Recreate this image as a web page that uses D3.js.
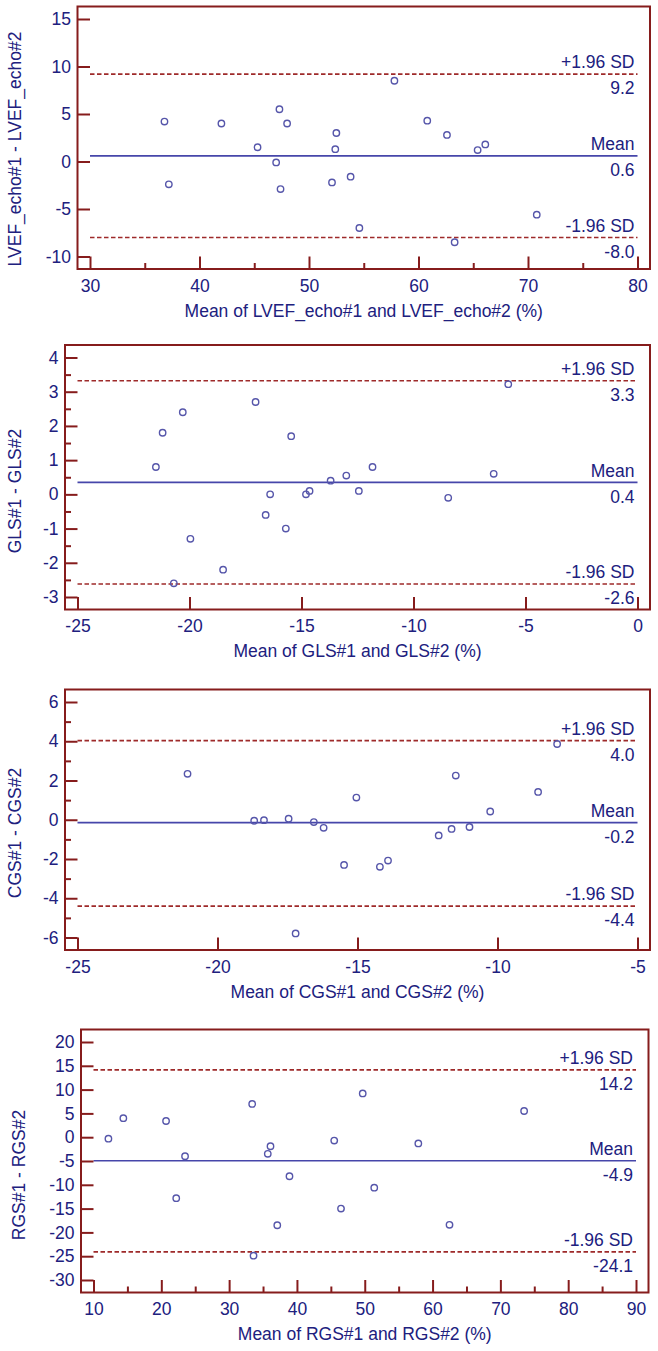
<!DOCTYPE html>
<html><head><meta charset="utf-8">
<script src="https://cdn.jsdelivr.net/npm/d3@7"></script>
<style>
body{margin:0;background:#fff}
svg{display:block}
text{font-family:Arial,"Liberation Sans",sans-serif}
</style>
</head><body>
<svg id="chart" width="658" height="1351"></svg>
<script>
// ---------- DATA ----------
const statNames = ["+1.96 SD", "Mean", "-1.96 SD"];

// Panel 1: LVEF
const lvefMean = [36.8, 37.2, 42.0, 45.3, 47.3, 48.0, 47.0, 47.4, 52.1, 52.5, 52.4, 53.8, 54.6, 57.8, 60.8, 62.6, 63.3, 65.4, 66.1, 70.8];
const lvefDiff = [4.2, -2.4, 4.0, 1.5, 5.5, 4.0, -0.1, -2.9, -2.2, 3.0, 1.3, -1.6, -7.0, 8.5, 4.3, 2.8, -8.5, 1.2, 1.8, -5.6];
const lvefStats = [9.2, 0.6, -8.0];
const lvefStatLabels = ["9.2", "0.6", "-8.0"];
const lvefXTicks = [30, 40, 50, 60, 70, 80];
const lvefXMinor = [35, 45, 55, 65, 75];
const lvefYTicks = [-10, -5, 0, 5, 10, 15];
const lvefYMinor = [];

// Panel 2: GLS
const glsMean = [-21.5, -21.2, -20.3, -19.96, -20.7, -18.5, -17.05, -16.6, -16.4, -15.7, -15.46, -14.8, -14.64, -13.7, -13.0, -12.44, -11.83, -8.45, -6.42, -5.77];
const glsDiff = [0.8, 1.8, 2.4, -1.3, -2.6, -2.2, 2.7, -0.6, 0.0, -1.0, 1.7, 0.0, 0.1, 0.4, 0.55, 0.1, 0.8, -0.1, 0.6, 3.22];
const glsStats = [3.32, 0.35, -2.62];
const glsStatLabels = ["3.3", "0.4", "-2.6"];
const glsXTicks = [-25, -20, -15, -10, -5, 0];
const glsXMinor = [];
const glsYTicks = [-3, -2, -1, 0, 1, 2, 3, 4];
const glsYMinor = [-2.5, -1.5, -0.5, 0.5, 1.5, 2.5, 3.5];

// Panel 3: CGS
const cgsMean = [-21.07, -18.69, -18.34, -17.46, -16.56, -16.21, -17.21, -15.04, -15.48, -14.2, -13.91, -12.1, -11.64, -11.49, -11.0, -10.26, -8.55, -7.87];
const cgsDiff = [2.34, -0.05, -0.02, 0.05, -0.12, -0.41, -5.79, 1.13, -2.3, -2.4, -2.08, -0.8, -0.47, 2.25, -0.37, 0.42, 1.42, 3.86];
const cgsStats = [4.03, -0.15, -4.4];
const cgsStatLabels = ["4.0", "-0.2", "-4.4"];
const cgsXTicks = [-25, -20, -15, -10, -5];
const cgsXMinor = [];
const cgsYTicks = [-6, -4, -2, 0, 2, 4, 6];
const cgsYMinor = [-5, -3, -1, 1, 3, 5];

// Panel 4: RGS
const rgsMean = [12.2, 14.4, 20.7, 23.5, 22.2, 33.4, 36.1, 35.7, 38.9, 37.1, 33.6, 45.5, 49.7, 57.9, 73.5, 51.4, 46.5, 62.5];
const rgsDiff = [-0.3, 4.0, 3.4, -4.0, -12.8, 7.0, -1.9, -3.5, -8.2, -18.5, -24.9, -0.7, 9.2, -1.3, 5.5, -10.6, -15.0, -18.4];
const rgsStats = [14.16, -4.95, -24.1];
const rgsStatLabels = ["14.2", "-4.9", "-24.1"];
const rgsXTicks = [10, 20, 30, 40, 50, 60, 70, 80, 90];
const rgsXMinor = [15, 25, 35, 45, 55, 65, 75, 85];
const rgsYTicks = [-30, -25, -20, -15, -10, -5, 0, 5, 10, 15, 20];
const rgsYMinor = [];

// ---------- STYLE / LAYOUT ----------
const FRAME = "#861c1c", DASH = "#9e2a2a", MEANC = "#4646aa", PT = "#5656aa", TXT = "#20207e";
const FS = 17.5, PAD = 12.5;
const fmt = d => String(d);

const panels = [
  {box:[77.5, 6.5, 650, 269], xs:lvefMean, ys:lvefDiff, st:lvefStats, sl:lvefStatLabels,
   xt:lvefXTicks, xm:lvefXMinor, yt:lvefYTicks, ym:lvefYMinor,
   xTitle:"Mean of LVEF_echo#1 and LVEF_echo#2 (%)", yTitle:"LVEF_echo#1 - LVEF_echo#2", yTx:21, yTy:149},
  {box:[65, 345, 650, 609.5], xs:glsMean, ys:glsDiff, st:glsStats, sl:glsStatLabels,
   xt:glsXTicks, xm:glsXMinor, yt:glsYTicks, ym:glsYMinor,
   xTitle:"Mean of GLS#1 and GLS#2 (%)", yTitle:"GLS#1 - GLS#2", yTx:21, yTy:491},
  {box:[65, 689.5, 650, 950], xs:cgsMean, ys:cgsDiff, st:cgsStats, sl:cgsStatLabels,
   xt:cgsXTicks, xm:cgsXMinor, yt:cgsYTicks, ym:cgsYMinor,
   xTitle:"Mean of CGS#1 and CGS#2 (%)", yTitle:"CGS#1 - CGS#2", yTx:20.5, yTy:833},
  {box:[81, 1029.5, 648.5, 1292.5], xs:rgsMean, ys:rgsDiff, st:rgsStats, sl:rgsStatLabels,
   xt:rgsXTicks, xm:rgsXMinor, yt:rgsYTicks, ym:rgsYMinor,
   xTitle:"Mean of RGS#1 and RGS#2 (%)", yTitle:"RGS#1 - RGS#2", yTx:25, yTy:1175}
];

const svg = d3.select("#chart");

panels.forEach(p => {
  const [L, T, R, B] = p.box;
  const x = d3.scaleLinear().domain(d3.extent(p.xt)).range([L + PAD, R - PAD]);
  const y = d3.scaleLinear().domain(d3.extent(p.yt)).range([B - PAD, T + PAD]);
  const g = svg.append("g");

  // reference lines
  const x0 = x.range()[0], x1 = x.range()[1];
  p.st.forEach((v, i) => {
    g.append("line").attr("x1", x0).attr("x2", x1).attr("y1", y(v)).attr("y2", y(v))
      .attr("stroke", i === 1 ? MEANC : DASH).attr("stroke-width", 1.7)
      .attr("stroke-dasharray", i === 1 ? null : "4.5,2.5");
    g.append("text").attr("x", x1 - 3).attr("y", y(v) - 5.8).attr("text-anchor", "end")
      .attr("font-size", FS).attr("fill", TXT).text(statNames[i]);
    g.append("text").attr("x", x1 - 3).attr("y", y(v) + 20.3).attr("text-anchor", "end")
      .attr("font-size", FS).attr("fill", TXT).text(p.sl[i]);
  });

  // points
  g.selectAll("circle.pt").data(p.xs.map((d, i) => [d, p.ys[i]])).join("circle")
    .attr("class", "pt").attr("cx", d => x(d[0])).attr("cy", d => y(d[1])).attr("r", 3.2)
    .attr("fill", "none").attr("stroke", PT).attr("stroke-width", 1.4);

  // axes (ticks pointing inward from the frame)
  const xa = g.append("g").attr("transform", `translate(0,${B})`)
    .call(d3.axisBottom(x).tickValues(p.xt).tickSizeInner(-PAD).tickSizeOuter(0).tickPadding(10.5).tickFormat(fmt));
  const ya = g.append("g").attr("transform", `translate(${L},0)`)
    .call(d3.axisLeft(y).tickValues(p.yt).tickSizeInner(-PAD).tickSizeOuter(0).tickPadding(6.5).tickFormat(fmt));
  const xm = g.append("g").attr("transform", `translate(0,${B})`)
    .call(d3.axisBottom(x).tickValues(p.xm).tickSizeInner(-6).tickSizeOuter(0).tickFormat(""));
  const ym = g.append("g").attr("transform", `translate(${L},0)`)
    .call(d3.axisLeft(y).tickValues(p.ym).tickSizeInner(-6).tickSizeOuter(0).tickFormat(""));
  [xa, ya, xm, ym].forEach(a => {
    a.select(".domain").remove();
    a.selectAll("line").attr("stroke", FRAME).attr("stroke-width", 2);
    a.selectAll("text").attr("fill", TXT).attr("font-size", FS).attr("font-family", null);
  });

  // frame
  g.append("rect").attr("x", L).attr("y", T).attr("width", R - L).attr("height", B - T)
    .attr("fill", "none").attr("stroke", FRAME).attr("stroke-width", 2);

  // titles
  g.append("text").attr("x", (L + R) / 2).attr("y", B + 47.5).attr("text-anchor", "middle")
    .attr("font-size", FS).attr("fill", TXT).text(p.xTitle);
  g.append("text").attr("transform", `translate(${p.yTx},${p.yTy}) rotate(-90)`).attr("text-anchor", "middle")
    .attr("font-size", FS).attr("fill", TXT).text(p.yTitle);
});
</script>
</body></html>
